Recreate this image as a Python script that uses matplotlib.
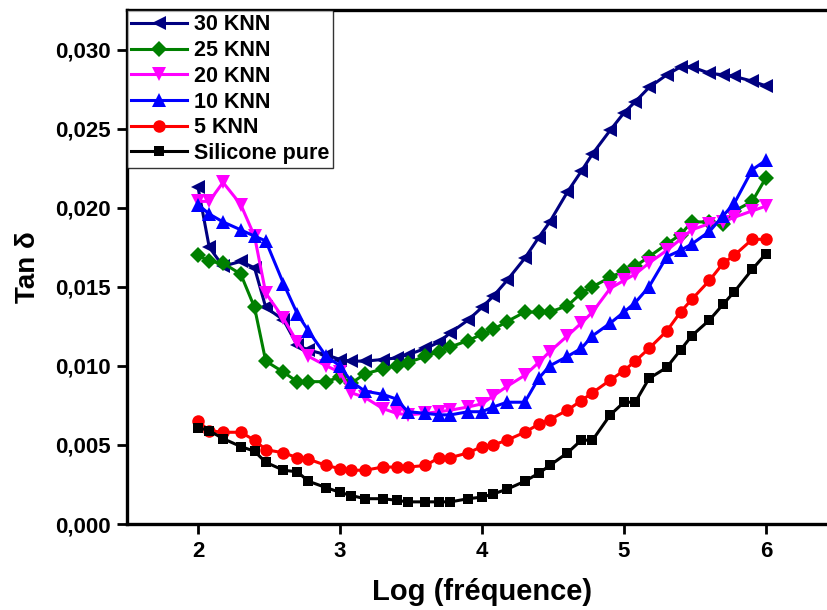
import numpy as np
import matplotlib
matplotlib.use("Agg")
import matplotlib.pyplot as plt

plt.rcParams["font.family"] = ["Liberation Sans", "DejaVu Sans"]
plt.rcParams["font.weight"] = "bold"

freq = [100, 120, 150, 200, 250, 300, 400, 500, 600, 800,
        1e3, 1.2e3, 1.5e3, 2e3, 2.5e3, 3e3, 4e3, 5e3, 6e3, 8e3,
        1e4, 1.2e4, 1.5e4, 2e4, 2.5e4, 3e4, 4e4, 5e4, 6e4, 8e4,
        1e5, 1.2e5, 1.5e5, 2e5, 2.5e5, 3e5, 4e5, 5e5, 6e5, 8e5,
        1e6]

knn30 = [0.0213, 0.0175, 0.0163, 0.0166, 0.0162, 0.0137, 0.0129, 0.0113, 0.0110, 0.0107,
         0.0104, 0.0103, 0.0103, 0.0104, 0.0105, 0.0107, 0.0111, 0.0115, 0.0121, 0.0129,
         0.0137, 0.0144, 0.0154, 0.0168, 0.0181, 0.0191, 0.0210, 0.0223, 0.0234, 0.0249,
         0.0260, 0.0267, 0.0276, 0.0284, 0.0289, 0.0289, 0.0285, 0.0284, 0.0283, 0.0280,
         0.0277]
knn25 = [0.0170, 0.0166, 0.0165, 0.0158, 0.0137, 0.0103, 0.0096, 0.0090, 0.0090, 0.0090,
         0.0093, 0.0089, 0.0095, 0.0098, 0.0100, 0.0102, 0.0106, 0.0109, 0.0112, 0.0116,
         0.0120, 0.0123, 0.0128, 0.0134, 0.0134, 0.0134, 0.0138, 0.0146, 0.0150, 0.0156,
         0.0160, 0.0163, 0.0169, 0.0177, 0.0183, 0.0191, 0.0191, 0.0190, 0.0198, 0.0204,
         0.0219]
knn20 = [0.0204, 0.0204, 0.0216, 0.0202, 0.0182, 0.0146, 0.0130, 0.0115, 0.0106, 0.0100,
         0.0096, 0.0083, 0.0080, 0.0073, 0.0070, 0.0069, 0.0070, 0.0071, 0.0072, 0.0074,
         0.0076, 0.0081, 0.0087, 0.0094, 0.0102, 0.0109, 0.0119, 0.0127, 0.0134, 0.0149,
         0.0154, 0.0158, 0.0165, 0.0173, 0.0180, 0.0186, 0.0190, 0.0191, 0.0194, 0.0198,
         0.0201]
knn10 = [0.0202, 0.0196, 0.0191, 0.0186, 0.0182, 0.0179, 0.0152, 0.0133, 0.0122, 0.0106,
         0.0100, 0.0090, 0.0084, 0.0082, 0.0079, 0.0071, 0.0070, 0.0069, 0.0069, 0.0071,
         0.0071, 0.0074, 0.0077, 0.0077, 0.0092, 0.0100, 0.0106, 0.0111, 0.0119, 0.0127,
         0.0134, 0.0140, 0.0150, 0.0169, 0.0173, 0.0177, 0.0185, 0.0195, 0.0203, 0.0224,
         0.0230]
knn5 = [0.0065, 0.0059, 0.0058, 0.0058, 0.0053, 0.0047, 0.0045, 0.0042, 0.0041, 0.0037,
        0.0035, 0.0034, 0.0034, 0.0036, 0.0036, 0.0036, 0.0037, 0.0042, 0.0042, 0.0045,
        0.0049, 0.0050, 0.0053, 0.0058, 0.0063, 0.0066, 0.0072, 0.0078, 0.0083, 0.0091,
        0.0097, 0.0103, 0.0111, 0.0122, 0.0134, 0.0142, 0.0154, 0.0165, 0.0170, 0.0180,
        0.0180]
silicone = [0.0061, 0.0059, 0.0054, 0.0049, 0.0046, 0.0039, 0.0034, 0.0033, 0.0027, 0.0023,
            0.0020, 0.0018, 0.0016, 0.0016, 0.0015, 0.0014, 0.0014, 0.0014, 0.0014, 0.0016,
            0.0017, 0.0019, 0.0022, 0.0027, 0.0032, 0.0037, 0.0045, 0.0053, 0.0053, 0.0069,
            0.0077, 0.0077, 0.0092, 0.0099, 0.0110, 0.0119, 0.0129, 0.0139, 0.0147, 0.0161,
            0.0171]

x = np.log10(freq)

series = [
    (knn30, "30 KNN", "#000080", "<", 10),
    (knn25, "25 KNN", "#008000", "D", 8),
    (knn20, "20 KNN", "#ff00ff", "v", 10),
    (knn10, "10 KNN", "#0000ff", "^", 10),
    (knn5, "5 KNN", "#ff0000", "o", 9),
    (silicone, "Silicone pure", "#000000", "s", 7.5),
]

fig = plt.figure(figsize=(8.27, 6.10), dpi=100)
ax = fig.add_axes([127 / 827, 86 / 610, 710 / 827, 514 / 610])

for y, lab, col, mk, ms in series:
    ax.plot(x, y, color=col, marker=mk, markersize=ms, linewidth=2.2,
            markeredgewidth=0, label=lab)

ax.set_xlim(1.5, 6.5)
ax.set_ylim(0, 0.0325)
ax.set_xticks([2, 3, 4, 5, 6])
ax.set_yticks([0, 0.005, 0.010, 0.015, 0.020, 0.025, 0.030])
ax.set_yticklabels([f"{v:.3f}".replace(".", ",") for v in ax.get_yticks()])

for sp in ax.spines.values():
    sp.set_linewidth(2.4)
ax.tick_params(direction="out", length=7, width=2, labelsize=16, pad=5)

ax.set_xlabel("Log (fréquence)", fontsize=21, fontweight="bold", labelpad=12)
ax.set_ylabel("Tan δ", fontsize=20, fontweight="bold", labelpad=10)

leg = ax.legend(loc="upper left", borderaxespad=0, fontsize=15.5, frameon=True,
                fancybox=False, edgecolor="black", handlelength=2.6,
                handletextpad=0.3, labelspacing=0.22, borderpad=0.2)
leg.get_frame().set_linewidth(1)

fig.savefig("out.png", dpi=100)
